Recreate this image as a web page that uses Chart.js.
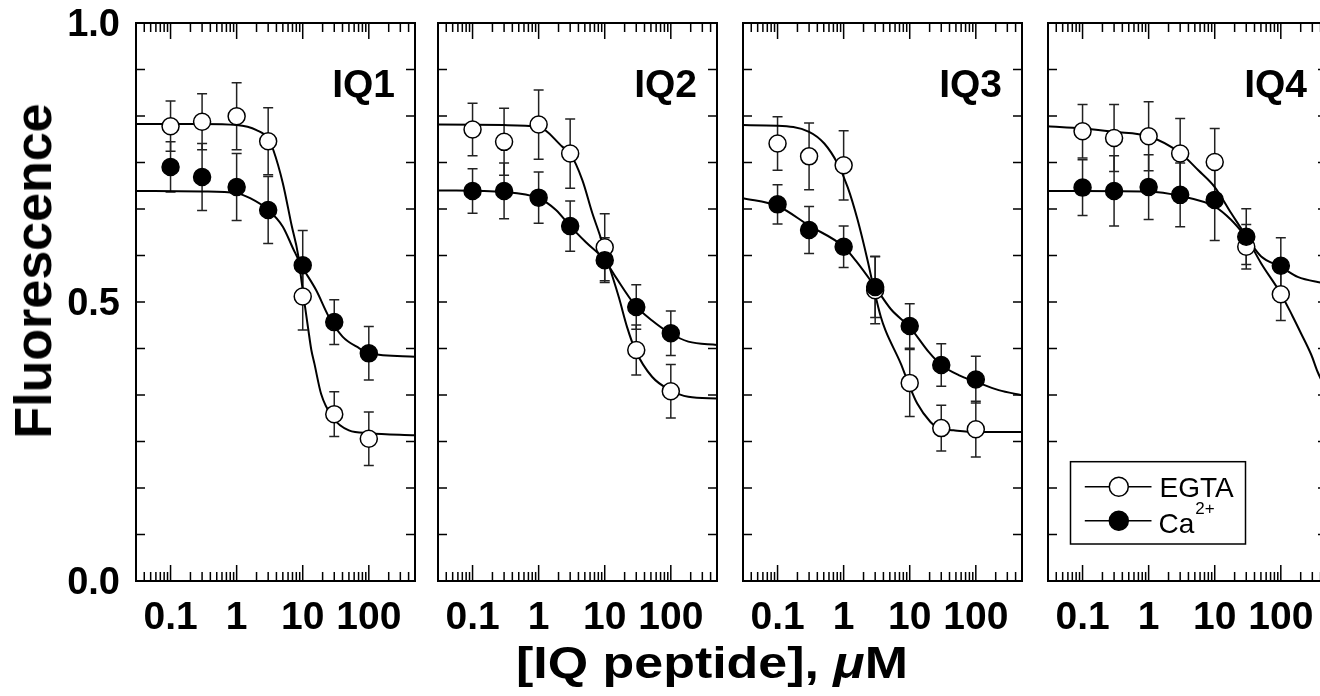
<!DOCTYPE html>
<html>
<head>
<meta charset="utf-8">
<script src="https://cdn.jsdelivr.net/npm/chart.js@4.4.1/dist/chart.umd.min.js"></script>
<style>
  html, body { margin: 0; padding: 0; background: #fff; }
  body { position: relative; width: 1320px; height: 696px; overflow: hidden; font-family: "Liberation Sans", Arial, sans-serif; }
  canvas { position: absolute; top: 0; }
  .ytitle { position: absolute; left: 33px; top: 271px; font-weight: bold; font-size: 52px; white-space: nowrap;
            transform: translate(-50%, -50%) rotate(-90deg); line-height: 1; }
  .xtitle { position: absolute; left: 712px; top: 641px; font-weight: bold; font-size: 44px; white-space: nowrap;
            transform: translateX(-50%) scaleX(1.18); line-height: 1; }
</style>
</head>
<body>
<canvas id="c1" width="430" height="696" style="left:0px"></canvas>
<canvas id="c2" width="299" height="696" style="left:428px"></canvas>
<canvas id="c3" width="299" height="696" style="left:733px"></canvas>
<canvas id="c4" width="299" height="696" style="left:1038px"></canvas>
<div class="ytitle">Fluorescence</div>
<div class="xtitle">[IQ peptide], <i>&mu;</i>M</div>
<script>
'use strict';

// peptide concentrations (uM) for the measured points
var concX = [0.1, 0.3, 1, 3, 10, 30, 100];
var panelNames = ['IQ1', 'IQ2', 'IQ3', 'IQ4'];

var xMajorTicks = [0.1, 1, 10, 100];
var xTickLabels = ['0.1', '1', '10', '100'];
var yLabelTicks = [0, 0.5, 1];
var yTickLabels = ['0.0', '0.5', '1.0'];

// IQ1
var iq1Egta = [0.815, 0.823, 0.833, 0.788, 0.510, 0.299, 0.255];
var iq1EgtaErr = [0.045, 0.05, 0.06, 0.06, 0.06, 0.04, 0.048];
var iq1Ca = [0.742, 0.724, 0.706, 0.665, 0.566, 0.464, 0.408];
var iq1CaErr = [0.045, 0.06, 0.06, 0.06, 0.062, 0.04, 0.048];
var iq1EgtaFitX = [0.03, 0.3, 1, 2, 3, 3.6, 5, 6.8, 8.5, 9.5, 10.5, 12, 13.5, 15, 19, 28, 50, 100, 500];
var iq1EgtaFitY = [0.819, 0.819, 0.817, 0.808, 0.793, 0.772, 0.713, 0.637, 0.585, 0.541, 0.503, 0.455, 0.414, 0.39, 0.335, 0.294, 0.27, 0.265, 0.261];
var iq1CaFitX = [0.03, 0.3, 1, 1.6, 3, 5, 7.2, 9.5, 16, 25, 40, 72, 100, 500];
var iq1CaFitY = [0.699, 0.698, 0.695, 0.686, 0.665, 0.635, 0.595, 0.566, 0.521, 0.473, 0.438, 0.417, 0.408, 0.402];

// IQ2
var iq2Egta = [0.809, 0.787, 0.818, 0.766, 0.598, 0.414, 0.340];
var iq2EgtaErr = [0.047, 0.06, 0.062, 0.062, 0.06, 0.045, 0.048];
var iq2Ca = [0.699, 0.699, 0.687, 0.636, 0.575, 0.491, 0.444];
var iq2CaErr = [0.04, 0.05, 0.046, 0.045, 0.04, 0.04, 0.04];
var iq2EgtaFitX = [0.03, 0.3, 1, 2.3, 3, 4.6, 6.5, 8.7, 10, 12, 16.4, 21.8, 29, 52, 98, 184, 500];
var iq2EgtaFitY = [0.818, 0.817, 0.814, 0.778, 0.766, 0.718, 0.659, 0.615, 0.59, 0.56, 0.508, 0.455, 0.414, 0.366, 0.342, 0.33, 0.327];
var iq2CaFitX = [0.03, 0.3, 1, 1.83, 3, 5.2, 10, 14.6, 29, 52, 98, 184, 500];
var iq2CaFitY = [0.700, 0.697, 0.686, 0.665, 0.636, 0.607, 0.575, 0.545, 0.494, 0.467, 0.444, 0.429, 0.423];

// IQ3
var iq3Egta = [0.784, 0.761, 0.745, 0.521, 0.355, 0.274, 0.272];
var iq3EgtaErr = [0.048, 0.06, 0.062, 0.06, 0.06, 0.041, 0.05];
var iq3Ca = [0.675, 0.629, 0.599, 0.527, 0.457, 0.387, 0.361];
var iq3CaErr = [0.035, 0.042, 0.037, 0.055, 0.04, 0.038, 0.042];
var iq3EgtaFitX = [0.03, 0.1, 0.3, 0.51, 0.81, 1.15, 1.63, 2.3, 2.9, 3.66, 4.3, 7.3, 9.5, 13, 20.6, 27, 46, 100, 500];
var iq3EgtaFitY = [0.817, 0.816, 0.805, 0.784, 0.748, 0.706, 0.647, 0.575, 0.521, 0.473, 0.449, 0.39, 0.355, 0.318, 0.285, 0.274, 0.27, 0.267, 0.267];
var iq3CaFitX = [0.03, 0.1, 0.3, 1, 1.6, 3, 5.2, 10, 19.5, 30, 55, 100, 222, 500];
var iq3CaFitY = [0.686, 0.672, 0.637, 0.599, 0.571, 0.527, 0.487, 0.455, 0.41, 0.387, 0.369, 0.357, 0.342, 0.333];

// IQ4
var iq4Egta = [0.806, 0.794, 0.797, 0.766, 0.751, 0.599, 0.514];
var iq4EgtaErr = [0.048, 0.06, 0.062, 0.063, 0.06, 0.04, 0.047];
var iq4Ca = [0.705, 0.699, 0.706, 0.692, 0.683, 0.617, 0.565];
var iq4CaErr = [0.05, 0.063, 0.058, 0.057, 0.073, 0.05, 0.05];
var iq4EgtaFitX = [0.03, 0.1, 0.3, 1, 3, 5.65, 10, 17.8, 30, 50, 100, 150, 200, 290, 360, 500];
var iq4EgtaFitY = [0.815, 0.811, 0.805, 0.797, 0.767, 0.736, 0.706, 0.659, 0.617, 0.570, 0.515, 0.475, 0.445, 0.405, 0.375, 0.34];
var iq4CaFitX = [0.03, 0.1, 1, 3, 10, 17.8, 30, 50, 100, 180, 360, 500];
var iq4CaFitY = [0.699, 0.699, 0.698, 0.69, 0.671, 0.647, 0.616, 0.582, 0.563, 0.545, 0.536, 0.534];

var panels = [
    { egta: iq1Egta, egtaErr: iq1EgtaErr, ca: iq1Ca, caErr: iq1CaErr, egtaFitX: iq1EgtaFitX, egtaFitY: iq1EgtaFitY, caFitX: iq1CaFitX, caFitY: iq1CaFitY },
    { egta: iq2Egta, egtaErr: iq2EgtaErr, ca: iq2Ca, caErr: iq2CaErr, egtaFitX: iq2EgtaFitX, egtaFitY: iq2EgtaFitY, caFitX: iq2CaFitX, caFitY: iq2CaFitY },
    { egta: iq3Egta, egtaErr: iq3EgtaErr, ca: iq3Ca, caErr: iq3CaErr, egtaFitX: iq3EgtaFitX, egtaFitY: iq3EgtaFitY, caFitX: iq3CaFitX, caFitY: iq3CaFitY },
    { egta: iq4Egta, egtaErr: iq4EgtaErr, ca: iq4Ca, caErr: iq4CaErr, egtaFitX: iq4EgtaFitX, egtaFitY: iq4EgtaFitY, caFitX: iq4CaFitX, caFitY: iq4CaFitY }
];

var FONT = '"Liberation Sans", Arial, sans-serif';
var X_MIN = 0.03, X_MAX = 500;

// all log tick positions 1..9 x 10^k inside the axis range
var xAllTicks = [];
[0.01, 0.1, 1, 10, 100].forEach(function (base) {
    for (var m = 1; m <= 9; m++) {
        var v = +(m * base).toPrecision(6);
        if (v >= X_MIN && v <= X_MAX) xAllTicks.push(v);
    }
});
var yAllTicks = [];
for (var i = 0; i <= 12; i++) yAllTicks.push(i / 12);

function pairs(xs, ys) {
    return xs.map(function (x, i) { return { x: x, y: ys[i] }; });
}

// keep the plot box where the figure has it, labels may overhang
function noScalePadding(scale) {
    scale.paddingTop = 0;
    scale.paddingBottom = 0;
    scale.paddingLeft = 0;
    scale.paddingRight = 0;
}

// frame, inward ticks, error bars, panel name and legend
var figurePlugin = {
    id: 'figure',
    beforeDatasetsDraw: function (chart) {
        var ctx = chart.ctx, xs = chart.scales.x, ys = chart.scales.y;
        var p = chart.options.plugins.figure.panel;
        ctx.save();
        ctx.strokeStyle = '#222';
        ctx.lineWidth = 1.5;
        [[p.egta, p.egtaErr], [p.ca, p.caErr]].forEach(function (s) {
            concX.forEach(function (x, i) {
                var px = xs.getPixelForValue(x);
                var top = ys.getPixelForValue(s[0][i] + s[1][i]);
                var bot = ys.getPixelForValue(s[0][i] - s[1][i]);
                ctx.beginPath();
                ctx.moveTo(px, top); ctx.lineTo(px, bot);
                ctx.moveTo(px - 5, top); ctx.lineTo(px + 5, top);
                ctx.moveTo(px - 5, bot); ctx.lineTo(px + 5, bot);
                ctx.stroke();
            });
        });
        ctx.restore();
    },
    afterDraw: function (chart) {
        var ctx = chart.ctx, a = chart.chartArea, xs = chart.scales.x, ys = chart.scales.y;
        var opts = chart.options.plugins.figure;
        ctx.save();
        ctx.strokeStyle = '#000';
        ctx.lineWidth = 1.5;
        ctx.beginPath();
        xAllTicks.forEach(function (v) {
            var px = xs.getPixelForValue(v);
            var len = xMajorTicks.indexOf(v) >= 0 ? 16 : 9;
            ctx.moveTo(px, a.bottom); ctx.lineTo(px, a.bottom - len);
            ctx.moveTo(px, a.top); ctx.lineTo(px, a.top + len);
        });
        yAllTicks.forEach(function (v) {
            var py = ys.getPixelForValue(v);
            ctx.moveTo(a.left, py); ctx.lineTo(a.left + 9, py);
            ctx.moveTo(a.right, py); ctx.lineTo(a.right - 9, py);
        });
        ctx.stroke();
        ctx.lineWidth = 2;
        ctx.strokeRect(a.left, a.top, a.right - a.left, a.bottom - a.top);

        ctx.fillStyle = '#000';
        ctx.font = 'bold 39px ' + FONT;
        ctx.textAlign = 'right';
        ctx.textBaseline = 'alphabetic';
        ctx.fillText(opts.name, a.right - 20, a.top + 74);

        if (opts.legend) {
            var x0 = a.left + 22.5, y0 = a.top + 438.7;
            ctx.lineWidth = 1.5;
            ctx.strokeRect(x0, y0, 175, 82.3);
            var rows = [{ y: y0 + 25, fill: '#fff' }, { y: y0 + 59, fill: '#000' }];
            rows.forEach(function (r) {
                ctx.beginPath();
                ctx.moveTo(x0 + 14.3, r.y); ctx.lineTo(x0 + 81, r.y);
                ctx.stroke();
                ctx.beginPath();
                ctx.arc(x0 + 48.3, r.y, 9.5, 0, Math.PI * 2);
                ctx.fillStyle = r.fill;
                ctx.fill();
                ctx.stroke();
            });
            ctx.fillStyle = '#000';
            ctx.textAlign = 'left';
            ctx.font = '28px ' + FONT;
            ctx.fillText('EGTA', x0 + 89, y0 + 35);
            ctx.fillText('Ca', x0 + 88, y0 + 71);
            var caW = ctx.measureText('Ca').width;
            ctx.font = '17px ' + FONT;
            ctx.fillText('2+', x0 + 88 + caW + 1, y0 + 52);
        }
        ctx.restore();
    }
};

function makeChart(idx) {
    var p = panels[idx];
    var first = idx === 0;
    var canvas = document.getElementById('c' + (idx + 1));
    return new Chart(canvas.getContext('2d'), {
        type: 'line',
        data: {
            datasets: [{
                label: 'Ca2+',
                data: pairs(concX, p.ca),
                showLine: false,
                pointRadius: 8.5,
                pointBackgroundColor: '#000',
                pointBorderColor: '#000',
                pointBorderWidth: 1.5,
                order: 0
            }, {
                label: 'EGTA',
                data: pairs(concX, p.egta),
                showLine: false,
                pointRadius: 8.5,
                pointBackgroundColor: '#fff',
                pointBorderColor: '#000',
                pointBorderWidth: 1.5,
                order: 1
            }, {
                label: 'EGTA fit',
                data: pairs(p.egtaFitX, p.egtaFitY),
                borderColor: '#000',
                borderWidth: 2,
                pointRadius: 0,
                cubicInterpolationMode: 'monotone',
                order: 2
            }, {
                label: 'Ca2+ fit',
                data: pairs(p.caFitX, p.caFitY),
                borderColor: '#000',
                borderWidth: 2,
                pointRadius: 0,
                cubicInterpolationMode: 'monotone',
                order: 2
            }]
        },
        options: {
            responsive: false,
            animation: false,
            devicePixelRatio: 1,
            layout: { padding: { left: first ? 0 : 10, right: first ? 15 : 10, top: 23, bottom: 0 } },
            scales: {
                x: {
                    type: 'logarithmic',
                    min: X_MIN,
                    max: X_MAX,
                    grid: { display: false, drawTicks: false },
                    border: { display: false },
                    afterBuildTicks: function (scale) {
                        scale.ticks = xAllTicks.map(function (v) { return { value: v }; });
                    },
                    afterFit: function (scale) {
                        scale.height = 115;
                        noScalePadding(scale);
                    },
                    ticks: {
                        autoSkip: false,
                        maxRotation: 0,
                        padding: 14,
                        color: '#000',
                        font: { family: FONT, size: 39, weight: 'bold' },
                        callback: function (value) {
                            var k = xMajorTicks.indexOf(value);
                            return k >= 0 ? xTickLabels[k] : '';
                        }
                    }
                },
                y: {
                    min: 0,
                    max: 1,
                    grid: { display: false, drawTicks: false },
                    border: { display: false },
                    afterBuildTicks: function (scale) {
                        scale.ticks = yAllTicks.map(function (v) { return { value: v }; });
                    },
                    afterFit: function (scale) {
                        scale.width = first ? 136 : 0;
                        noScalePadding(scale);
                    },
                    ticks: {
                        display: first,
                        autoSkip: false,
                        padding: 16,
                        labelOffset: 3,
                        color: '#000',
                        font: { family: FONT, size: 38, weight: 'bold' },
                        callback: function (value) {
                            for (var j = 0; j < yLabelTicks.length; j++) {
                                if (Math.abs(yLabelTicks[j] - value) < 1e-6) return yTickLabels[j];
                            }
                            return '';
                        }
                    }
                }
            },
            plugins: {
                legend: { display: false },
                tooltip: { enabled: false },
                figure: { panel: p, name: panelNames[idx], legend: idx === 3 }
            }
        },
        plugins: [figurePlugin]
    });
}

for (var n = 0; n < panels.length; n++) makeChart(n);
</script>
</body>
</html>
